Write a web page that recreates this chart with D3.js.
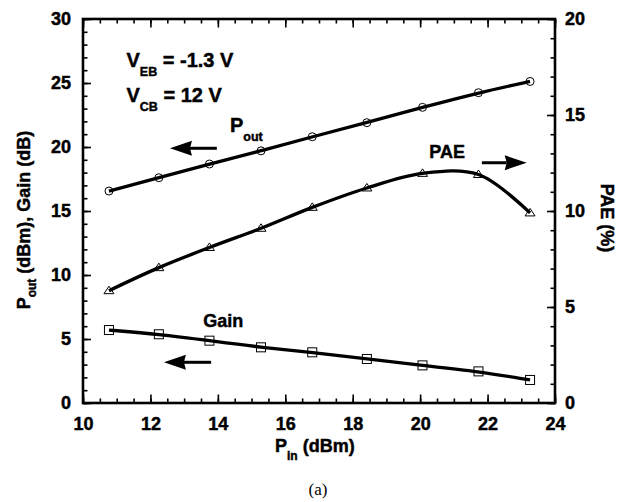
<!DOCTYPE html>
<html><head><meta charset="utf-8">
<script src="https://cdn.jsdelivr.net/npm/d3@7"></script>
<style>body{margin:0;background:#fff}svg{display:block}</style>
</head><body><svg id="c" width="624" height="502"></svg>
<script>
// data
const pin  = [10.77, 12.25, 13.75, 15.28, 16.8, 18.42, 20.07, 21.73, 23.26];
const pout = [16.56, 17.6, 18.67, 19.7, 20.8, 21.9, 23.1, 24.24, 25.12];
const gain = [5.7, 5.37, 4.87, 4.35, 3.96, 3.44, 2.94, 2.47, 1.8];
const pae  = [5.85, 7.05, 8.1, 9.1, 10.19, 11.2, 11.96, 11.9, 9.9];
const xTicks = [10, 12, 14, 16, 18, 20, 22, 24];
const yLeftTicks = [0, 5, 10, 15, 20, 25, 30];
const yRightTicks = [0, 5, 10, 15, 20];

const SANS = '"Liberation Sans",Arial,sans-serif';
const svg = d3.select("#c");
const L = 83, R = 555, T = 19, B = 403;
const x = d3.scaleLinear([10, 24], [L, R]);
const yL = d3.scaleLinear([0, 30], [B, T]);
const yR = d3.scaleLinear([0, 20], [B, T]);

function heavy(sel) {
  return sel.attr("font-family", SANS).attr("font-weight", "bold").attr("fill", "#000")
    .attr("stroke", "#000").attr("stroke-width", 0.45);
}
function style(g, labels, fs) {
  g.select(".domain").remove();
  g.selectAll(".tick line").attr("stroke", "#000").attr("stroke-width", 1.6);
  if (!labels) g.selectAll(".tick text").remove();
  else heavy(g.selectAll(".tick text").attr("font-size", fs));
}
const minorX = d3.range(10, 24.01, 0.5);
const minorYL = d3.range(0, 30.01, 1);
const minorYR = d3.range(0, 20.01, 1);

// bottom
svg.append("g").attr("transform", `translate(0,${B})`)
  .call(d3.axisBottom(x).tickValues(minorX).tickSize(-4.5)).call(g => style(g, false));
svg.append("g").attr("transform", `translate(0,${B})`)
  .call(d3.axisBottom(x).tickValues(xTicks).tickSize(-8.5).tickPadding(14)).call(g => style(g, true, 18));
// top
svg.append("g").attr("transform", `translate(0,${T})`)
  .call(d3.axisTop(x).tickValues(minorX).tickSize(-4.5)).call(g => style(g, false));
svg.append("g").attr("transform", `translate(0,${T})`)
  .call(d3.axisTop(x).tickValues(xTicks).tickSize(-8.5)).call(g => style(g, false));
// left
svg.append("g").attr("transform", `translate(${L},0)`)
  .call(d3.axisLeft(yL).tickValues(minorYL).tickSize(-4.5)).call(g => style(g, false));
svg.append("g").attr("transform", `translate(${L},0)`)
  .call(d3.axisLeft(yL).tickValues(yLeftTicks).tickSize(-8).tickPadding(12)).call(g => style(g, true, 18));
// right
svg.append("g").attr("transform", `translate(${R},0)`)
  .call(d3.axisRight(yR).tickValues(minorYR).tickSize(-4.5)).call(g => style(g, false));
svg.append("g").attr("transform", `translate(${R},0)`)
  .call(d3.axisRight(yR).tickValues(yRightTicks).tickSize(-8).tickPadding(10)).call(g => style(g, true, 18));

// frame
svg.append("rect").attr("x", L).attr("y", T).attr("width", R - L).attr("height", B - T)
  .attr("fill", "none").attr("stroke", "#000").attr("stroke-width", 2.6);

// lines
const lineL = d3.line().x((d, i) => x(pin[i])).y(d => yL(d)).curve(d3.curveBasis);
const lineR = d3.line().x((d, i) => x(pin[i])).y(d => yR(d)).curve(d3.curveCatmullRom.alpha(0.5));
svg.append("path").attr("d", lineL(pout)).attr("fill", "none").attr("stroke", "#000").attr("stroke-width", 3.3);
svg.append("path").attr("d", lineL(gain)).attr("fill", "none").attr("stroke", "#000").attr("stroke-width", 3.3);
svg.append("path").attr("d", lineR(pae)).attr("fill", "none").attr("stroke", "#000").attr("stroke-width", 3.3);

// markers
svg.append("g").selectAll("circle").data(pout).join("circle")
  .attr("cx", (d, i) => x(pin[i])).attr("cy", d => yL(d)).attr("r", 4)
  .attr("fill", "none").attr("stroke", "#000").attr("stroke-width", 1);
svg.append("g").selectAll("rect").data(gain).join("rect")
  .attr("x", (d, i) => x(pin[i]) - 4.5).attr("y", d => yL(d) - 4.5).attr("width", 9).attr("height", 9)
  .attr("fill", "none").attr("stroke", "#000").attr("stroke-width", 1);
svg.append("g").selectAll("path").data(pae).join("path")
  .attr("transform", (d, i) => `translate(${x(pin[i])},${yR(d)})`)
  .attr("d", "M0,-4.5L5,3L-5,3Z")
  .attr("fill", "none").attr("stroke", "#000").attr("stroke-width", 1);

// annotations (data units)
const arrows = [
  {x1: 13.97, x2: 12.58, y: 19.9},   // Pout, left axis
  {x1: 13.80, x2: 12.40, y: 3.18},   // Gain
  {x1: 21.83, x2: 23.16, y: 18.77}   // PAE
];
arrows.forEach(a => {
  const X1 = x(a.x1), X2 = x(a.x2), Y = yL(a.y);
  const dir = Math.sign(X2 - X1);
  const hx = X2 - dir * 22;
  svg.append("line").attr("x1", X1).attr("x2", hx + dir * 2).attr("y1", Y).attr("y2", Y)
    .attr("stroke", "#000").attr("stroke-width", 3);
  svg.append("path").attr("d", `M${X2},${Y}L${hx},${Y - 7.5}L${hx + dir * 2},${Y}L${hx},${Y + 7.5}Z`).attr("fill", "#000");
});

function sub(px, py, main, s, rest, fs, sfs, dy) {
  const tx = heavy(svg.append("text").attr("x", px).attr("y", py).attr("font-size", fs));
  tx.append("tspan").text(main);
  tx.append("tspan").attr("font-size", sfs).attr("dy", dy).text(s);
  if (rest) tx.append("tspan").attr("dy", -dy).text(rest);
  return tx;
}
sub(x(11.29), yL(26.25), "V", "EB", " = -1.3 V", 20, 12.5, 9);
sub(x(11.29), yL(23.54), "V", "CB", " = 12 V", 20, 12.5, 9);
sub(x(14.36), yL(21.2), "P", "out", null, 20, 12.5, 9);
heavy(svg.append("text").attr("x", x(13.57)).attr("y", yL(5.96)).attr("font-size", 18)).text("Gain");
heavy(svg.append("text").attr("x", x(20.27)).attr("y", yL(19.12)).attr("font-size", 18)).text("PAE");

// axis titles
const yt = heavy(svg.append("text").attr("transform", "translate(30,220) rotate(-90)").attr("text-anchor", "middle")
  .attr("font-size", 18));
yt.append("tspan").text("P");
yt.append("tspan").attr("font-size", 12).attr("dy", 6).text("out");
yt.append("tspan").attr("dy", -6).text(" (dBm), Gain (dB)");

heavy(svg.append("text").attr("transform", "translate(601,218) rotate(90)").attr("text-anchor", "middle")
  .attr("font-size", 18)).text("PAE (%)");

const xt = heavy(svg.append("text").attr("x", 275).attr("y", 452).attr("font-size", 18));
xt.append("tspan").text("P");
xt.append("tspan").attr("font-size", 12).attr("dy", 8).text("in");
xt.append("tspan").attr("dy", -8).text(" (dBm)");

svg.append("text").attr("x", 318).attr("y", 495).attr("text-anchor", "middle")
  .attr("font-family", '"Liberation Serif","Times New Roman",serif').attr("font-size", 17).attr("fill", "#000").text("(a)");
</script></body></html>
